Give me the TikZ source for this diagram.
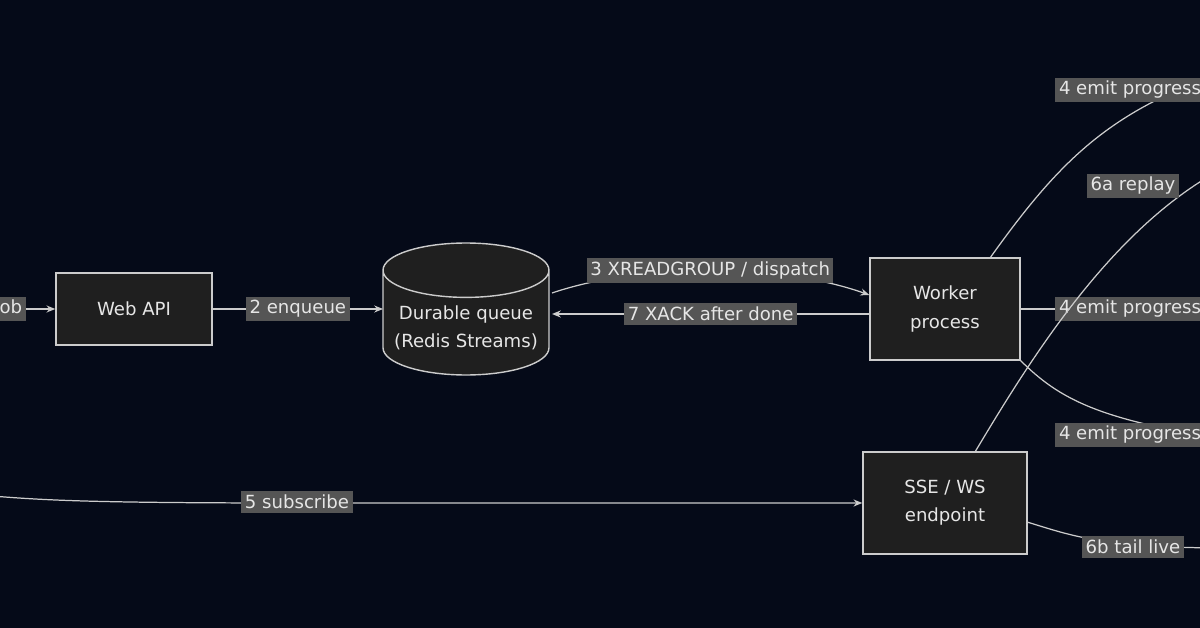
\documentclass[tikz,border=0pt]{standalone}
\usepackage{fontspec}
\setmainfont{DejaVu Sans}
\usetikzlibrary{shapes.geometric,arrows.meta}
\definecolor{bg}{HTML}{050A18}
\definecolor{nfill}{HTML}{1F1F1F}
\definecolor{nline}{HTML}{CCCCCC}
\definecolor{ltxt}{HTML}{E6E6E6}
\definecolor{lbg}{HTML}{555555}
\begin{document}
\begin{tikzpicture}[x=0.02cm,y=-0.02cm,
  box/.style={draw=nline,fill=nfill,text=ltxt,line width=0.8pt,align=center,font=\fontsize{10.3}{16}\selectfont},
  lab/.style={fill=lbg,text=ltxt,inner sep=2pt,font=\fontsize{10.3}{12}\selectfont},
  ed/.style={draw=nline,line width=0.7pt},
  arr/.style={ed,-{Stealth[length=5pt,width=4pt]}}]
\fill[bg] (0,0) rectangle (1200,628);
\useasboundingbox (0,0) rectangle (1200,628);
\clip (0,0) rectangle (1200,628);
\node[box,minimum width=3.12cm,minimum height=1.44cm] (api) at (134,309) {Web API};
\node[box,cylinder,shape border rotate=90,aspect=0.35,minimum width=3.32cm,minimum height=2.64cm,anchor=shape center] (q) at (466,309) {Durable queue\\(Redis Streams)};
\node[box,minimum width=3.0cm,minimum height=2.04cm] (w) at (945,309) {Worker\\process};
\node[box,minimum width=3.28cm,minimum height=2.04cm] (s) at (945,503) {SSE / WS\\endpoint};
\coordinate (l1) at (-20,309);
\coordinate (l2) at (-20,495);
\coordinate (r1) at (1230,70);
\coordinate (r2) at (1220,170);
\coordinate (r3) at (1230,309);
\coordinate (r4) at (1230,440);
\coordinate (r5) at (1230,548);
\coordinate (qw) at (383,309);
\draw[arr] (l1) -- (api.west);
\node[lab,anchor=east] at (26,309) {1 submit job};
\draw[arr] (api.east) -- node[lab]{2 enqueue} (qw);
\draw[arr] (552,293) .. controls (640,263) and (780,263) .. node[lab,pos=0.5]{3 XREADGROUP / dispatch} (w.west |- 0,295);
\draw[arr] (w.west |- 0,314) -- node[lab]{7 XACK after done} (552,314);
\draw[ed] (990,258) .. controls (1060,160) and (1110,110) .. (r1);
\node[lab] at (1130,90) {4 emit progress};
\draw[ed] (w.east) -- (r3);
\node[lab] at (1130,309) {4 emit progress};
\draw[ed] (1020,360) .. controls (1060,400) and (1100,420) .. (r4);
\node[lab] at (1130,435) {4 emit progress};
\draw[ed] (975,452) .. controls (1030,360) and (1110,230) .. (r2);
\node[lab] at (1133,186) {6a replay};
\draw[arr] (l2) .. controls (40,500) and (80,503) .. (300,503) -- (s.west);
\node[lab] at (297,502) {5 subscribe};
\draw[ed] (1027,522) .. controls (1070,535) and (1100,548) .. (r5);
\node[lab] at (1133,547) {6b tail live};
\end{tikzpicture}
\end{document}
